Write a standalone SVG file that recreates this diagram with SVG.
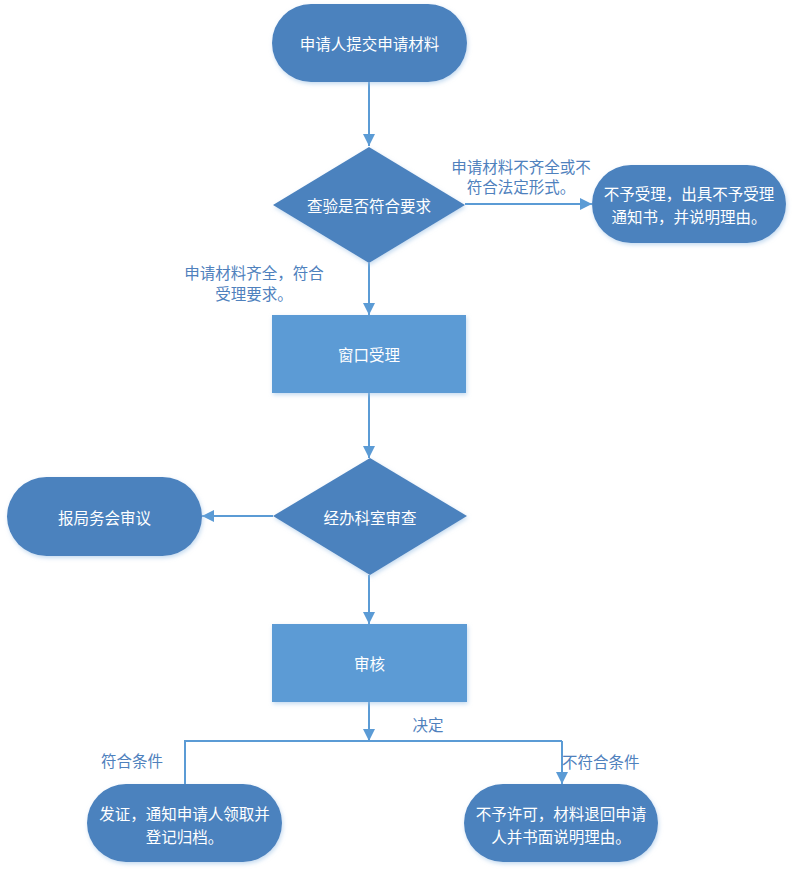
<svg xmlns="http://www.w3.org/2000/svg" width="795" height="873" viewBox="0 0 795 873">
<style>
  .term { fill: #4b82be; filter: url(#sh); }
  .proc { fill: #5b9bd5; filter: url(#sh); }
  .dec { fill: #4b82be; filter: url(#sh); }
  .nt { font-family: "Noto Sans CJK SC", "Microsoft YaHei", sans-serif; font-size: 15.5px; fill: #ffffff; text-anchor: middle; dominant-baseline: central; }
  .lb { font-family: "Noto Sans CJK SC", "Microsoft YaHei", sans-serif; font-size: 15.5px; fill: #4f81bd; dominant-baseline: central; }
  .ln { stroke: #5b9bd5; stroke-width: 2; fill: none; }
</style>
<defs>
  <filter id="sh" x="-10%" y="-10%" width="120%" height="130%">
    <feDropShadow dx="1" dy="2" stdDeviation="2" flood-color="#9dc3e6" flood-opacity="0.6"/>
  </filter>
  <marker id="arr" markerUnits="userSpaceOnUse" markerWidth="12" markerHeight="12" viewBox="0 0 12 12" refX="12" refY="6" orient="auto">
    <path d="M0,0 L12,6 L0,12 Z" fill="#5b9bd5"/>
  </marker>
</defs>
<rect width="795" height="873" fill="#ffffff"/>

<g id="connectors">
  <line class="ln" x1="369" y1="82" x2="369" y2="146" marker-end="url(#arr)"/>
  <line class="ln" x1="465" y1="204" x2="592" y2="204" marker-end="url(#arr)"/>
  <line class="ln" x1="369" y1="263" x2="369" y2="315" marker-end="url(#arr)"/>
  <line class="ln" x1="369" y1="393" x2="369" y2="458" marker-end="url(#arr)"/>
  <line class="ln" x1="273" y1="516" x2="202" y2="516" marker-end="url(#arr)"/>
  <line class="ln" x1="369" y1="575" x2="369" y2="624" marker-end="url(#arr)"/>
  <line class="ln" x1="369" y1="702" x2="369" y2="741" marker-end="url(#arr)"/>
  <polyline class="ln" points="185,784 185,741 562,741"/>
  <line class="ln" x1="562" y1="741" x2="562" y2="784" marker-end="url(#arr)"/>
  <text class="lb" x="521" y="166" text-anchor="middle">申请材料不齐全或不</text>
  <text class="lb" x="521" y="186" text-anchor="middle">符合法定形式。</text>
  <text class="lb" x="254" y="272" text-anchor="middle">申请材料齐全，符合</text>
  <text class="lb" x="254" y="293" text-anchor="middle">受理要求。</text>
  <text class="lb" x="428" y="724" text-anchor="middle">决定</text>
  <text class="lb" x="132" y="760" text-anchor="middle">符合条件</text>
  <text class="lb" x="562" y="761">不符合条件</text>
</g>

<g id="n1">
  <rect class="term" x="272" y="4" width="195" height="78" rx="39" ry="39"/>
  <text class="nt" x="369.5" y="43">申请人提交申请材料</text>
</g>
<g id="d1">
  <polygon class="dec" points="369,147 465,205 369,263 273,205"/>
  <text class="nt" x="369" y="205">查验是否符合要求</text>
</g>
<g id="n2">
  <rect class="term" x="592" y="165" width="194" height="78" rx="39" ry="39"/>
  <text class="nt" x="689" y="193">不予受理，出具不予受理</text>
  <text class="nt" x="689" y="216">通知书，并说明理由。</text>
</g>
<g id="n3">
  <rect class="proc" x="272" y="315" width="194" height="78"/>
  <text class="nt" x="369" y="354">窗口受理</text>
</g>
<g id="d2">
  <polygon class="dec" points="370,458 467,516 370,575 273,516"/>
  <text class="nt" x="370" y="517">经办科室审查</text>
</g>
<g id="n4">
  <rect class="term" x="7" y="477" width="195" height="79" rx="39.5" ry="39.5"/>
  <text class="nt" x="104.5" y="517">报局务会审议</text>
</g>
<g id="n5">
  <rect class="proc" x="272" y="624" width="195" height="78"/>
  <text class="nt" x="369.5" y="663">审核</text>
</g>
<g id="n6">
  <rect class="term" x="87" y="784" width="195" height="78" rx="39" ry="39"/>
  <text class="nt" x="184.5" y="813">发证，通知申请人领取并</text>
  <text class="nt" x="184.5" y="836">登记归档。</text>
</g>
<g id="n7">
  <rect class="term" x="464" y="784" width="194" height="78" rx="39" ry="39"/>
  <text class="nt" x="561" y="813">不予许可，材料退回申请</text>
  <text class="nt" x="561" y="836">人并书面说明理由。</text>
</g>
</svg>
